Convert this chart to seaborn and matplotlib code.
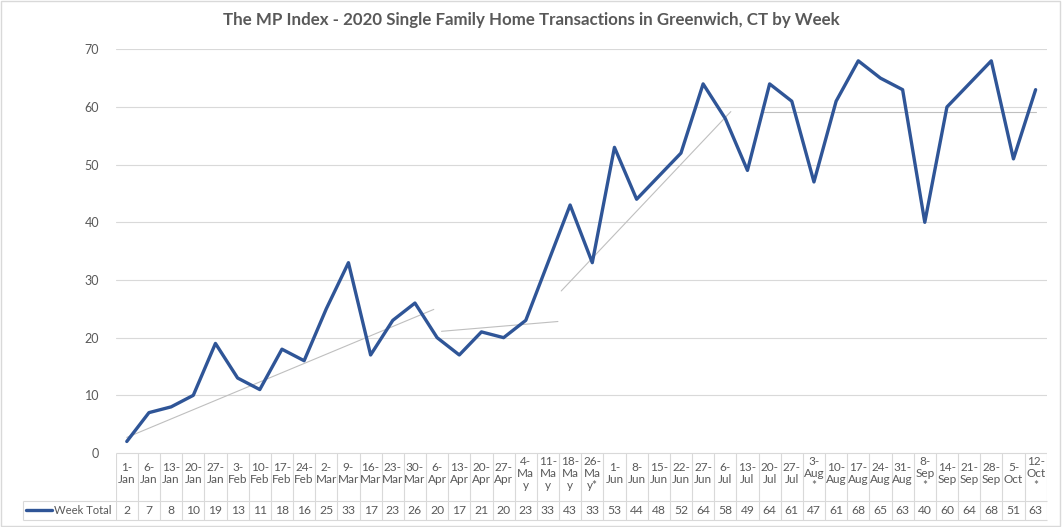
import numpy as np
import seaborn as sns
import matplotlib.pyplot as plt
from matplotlib.patches import Rectangle

sns.set_theme(style="white")
plt.rcParams['font.family'] = ['Lato', 'DejaVu Sans']

# weekly closed sales
weeks = ["1-Jan", "6-Jan", "13-Jan", "20-Jan", "27-Jan", "3-Feb", "10-Feb", "17-Feb", "24-Feb",
         "2-Mar", "9-Mar", "16-Mar", "23-Mar", "30-Mar", "6-Apr", "13-Apr", "20-Apr", "27-Apr",
         "4-May", "11-May", "18-May", "26-May*", "1-Jun", "8-Jun", "15-Jun", "22-Jun", "27-Jun",
         "6-Jul", "13-Jul", "20-Jul", "27-Jul", "3-Aug*", "10-Aug", "17-Aug", "24-Aug", "31-Aug",
         "8-Sep*", "14-Sep", "21-Sep", "28-Sep", "5-Oct", "12-Oct*"]
week_total = [2, 7, 8, 10, 19, 13, 11, 18, 16, 25, 33, 17, 23, 26, 20, 17, 21, 20, 23, 33, 43,
              33, 53, 44, 48, 52, 64, 58, 49, 64, 61, 47, 61, 68, 65, 63, 40, 60, 64, 68, 51, 63]

# the hand drawn trend segments (week index, value)
trend_x0 = [0.0, 14.2, 19.6, 28.7]
trend_x1 = [13.85, 19.45, 27.25, 41.0]
trend_y0 = [2.7, 21.1, 28.1, 59.1]
trend_y1 = [24.9, 22.8, 59.2, 59.1]

title = "The MP Index - 2020 Single Family Home Transactions in Greenwich, CT by Week"
gray = '#595959'
blue = '#2F5597'
border = '#d9d9d9'


def wrap(lab):
    # mimic excel's wrapping inside the narrow table cells
    day, mon = lab.split('-')
    star = mon.endswith('*')
    mon = mon.rstrip('*')
    if mon == 'May':
        return day + '-\nMa\ny' + ('*' if star else '')
    return day + '-\n' + mon + ('\n*' if star else '')


W, H = 1062, 527
fig = plt.figure(figsize=(W / 100, H / 100), dpi=100)
n = len(week_total)

ax = fig.add_axes([115.7 / W, (H - 453) / H, 931 / W, (453 - 49.3) / H])
ax.set_axisbelow(True)
ax.grid(axis='y', color=border, lw=0.8)
for x0, x1, y0, y1 in zip(trend_x0, trend_x1, trend_y0, trend_y1):
    ax.plot([x0, x1], [y0, y1], color='#bfbfbf', lw=0.8)
sns.lineplot(x=np.arange(n), y=week_total, ax=ax, color=blue, linewidth=2.4)
ax.set_xlim(-0.5, n - 0.5)
ax.set_ylim(0, 70)
ax.set_yticks(range(0, 71, 10))
ax.set_xticks([])
ax.tick_params(axis='y', length=0, pad=12, labelcolor=gray, labelsize=9)
sns.despine(ax=ax, left=True, bottom=True)

# data table under the plot
tab = fig.add_axes([115.7 / W, (H - 520) / H, 931 / W, 67 / H])
tab.set_xlim(-0.5, n - 0.5)
tab.set_ylim(0, 67)
tab.axis('off')
xleft = -0.5 - (115.7 - 22.7) / 22.17
tab.vlines(np.arange(n + 1) - 0.5, 0, 67, color=border, lw=0.8)
tab.hlines(67, -0.5, n - 0.5, color=border, lw=0.8)
tab.hlines([0, 19], xleft, n - 0.5, color=border, lw=0.8, clip_on=False)
tab.vlines(xleft, 0, 19, color=border, lw=0.8, clip_on=False)
for i, (lab, v) in enumerate(zip(weeks, week_total)):
    tab.text(i, 46.5, wrap(lab), ha='center', va='center', fontsize=8.5, color=gray, linespacing=1.15)
    tab.text(i, 10, str(v), ha='center', va='center', fontsize=8.7, color=gray)
tab.plot([-4.56, -3.36], [10.5, 10.5], color=blue, lw=2.4, clip_on=False)
tab.text(-0.71, 10, "Week Total", ha='right', va='center', fontsize=8.1, color=gray)

fig.text(531 / W, 1 - 20 / H, title, ha='center', va='center', fontsize=12.2, fontweight='bold', color=gray)
fig.add_artist(Rectangle((0.5 / W, 1 / H), 1059.5 / W, 525.5 / H, transform=fig.transFigure,
                         fill=False, ec=border, lw=1))

fig.savefig("out.png", dpi=100)
